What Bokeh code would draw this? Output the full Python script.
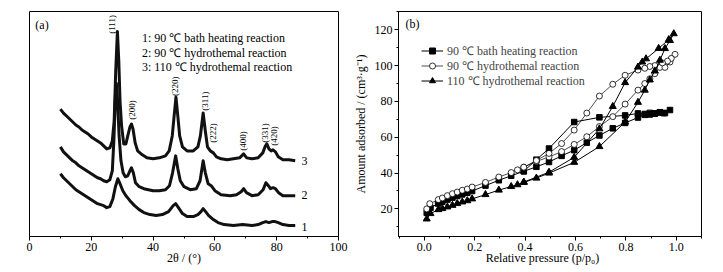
from bokeh.plotting import figure
from bokeh.layouts import row
from bokeh.models import (Legend, LegendItem, SingleIntervalTicker,
                          Range1d, NumeralTickFormatter)
from bokeh.core.properties import value
from bokeh.embed import file_html
from bokeh.resources import INLINE
import math

FONT = "Liberation Serif"

# ---------------- (a) XRD patterns (intensity, a.u.) ----------------
tt_1 = [10, 11, 12, 13, 14, 15, 16, 17, 18, 19, 20, 21, 22, 23, 24, 25, 26, 27, 27.8, 28.6, 29.3,
        30.2, 31.2, 32.5, 34, 35.5, 37, 39, 41, 43, 45, 46.5, 47.3, 48.2, 49.5, 51, 53, 54.5, 55.5,
        56.2, 57, 58, 59.5, 61, 63, 66, 69, 72, 74, 75.5, 76.5, 77.5, 78.5, 79.5, 80.5, 82, 84, 86]
int_1 = [63, 59, 56, 53, 50, 47, 45, 43, 41, 39, 37, 35, 33, 32, 31, 29, 30, 38, 50, 58, 53,
         46, 41, 36, 31, 27, 24, 22, 21, 22, 25, 31, 33, 29, 23, 20, 20, 22, 25,
         28, 25, 21, 17, 14, 12, 11, 12, 11, 12, 14, 15, 14, 15, 15, 14, 12, 11, 11]

tt_2 = [10, 11, 12, 13, 14, 15, 16, 17, 18, 19, 20, 21, 22, 23, 24, 25, 26, 26.8, 27.3, 27.8, 28.1,
        28.5, 29.0, 29.6, 30.3, 31, 31.8, 32.5, 33.0, 33.6, 34.3, 35.5, 37, 40, 42, 44, 45.3, 46.3,
        47.3, 48.0, 48.8, 50, 52, 54, 55.2, 56.2, 56.9, 57.8, 58.8, 60, 62, 65, 67, 68.5, 69.3, 70.2,
        72, 74, 75.6, 76.5, 77.3, 78, 78.8, 79.6, 80.6, 82, 84, 86]
int_2 = [90, 85, 82, 79, 76, 74, 71, 69, 67, 65, 63, 61, 59, 58, 56, 55, 57, 66, 96, 141, 154,
         136, 101, 76, 64, 60, 61, 66, 69, 64, 54, 50, 48, 46, 46, 47, 51, 64,
         81, 68, 56, 50, 47, 48, 56, 76, 64, 53, 51, 46, 42, 41, 42, 45, 48, 44,
         41, 42, 47, 54, 51, 48, 49, 48, 44, 41, 41, 41]

tt_3 = [10, 11, 12, 13, 14, 15, 16, 17, 18, 19, 20, 21, 22, 23, 24, 25, 26, 26.8, 27.4, 27.9, 28.45,
        28.9, 29.3, 29.8, 30.5, 31.2, 31.8, 32.5, 33.0, 33.5, 34.2, 35, 36.5, 38, 40, 42, 44, 45.2,
        46.2, 46.8, 47.4, 48.0, 48.6, 49.5, 51, 53, 54.5, 55.3, 56.2, 56.9, 57.6, 58.5, 59.5, 60.5,
        62, 64, 66, 68, 69.3, 70.3, 72, 74, 75.5, 76.2, 76.8, 77.5, 78.2, 78.8, 79.6, 80.5, 82, 84, 86]
int_3 = [128, 124, 121, 118, 115, 112, 110, 107, 105, 103, 100, 98, 96, 94, 91, 88, 89, 96, 116, 166, 206,
         176, 136, 111, 93, 93, 101, 110, 113, 108, 94, 86, 82, 79, 78, 79, 81, 86,
         101, 121, 140, 121, 101, 90, 86, 86, 90, 101, 124, 106, 90, 86, 84, 80,
         78, 77, 78, 79, 83, 79, 78, 79, 84, 90, 93, 88, 86, 87, 85, 80, 77, 77, 76]

peak_text = ["(111)", "(200)", "(220)", "(311)", "(222)", "(400)", "(331)", "(420)"]
peak_tt = [26.7, 33.2, 47.2, 56.9, 59.4, 69.1, 76.3, 79.2]
peak_int = [213, 127, 151, 136, 104, 96, 104, 101]

curve_no = ["1", "2", "3"]
curve_no_tt = [88.0, 88.0, 88.0]
curve_no_int = [10, 42, 76]

sample_names_a = ["1: 90 \u2103 bath heating reaction",
                  "2: 90 \u2103 hydrothemal reaction",
                  "3: 110 \u2103 hydrothemal reaction"]
sample_tt = [36.4, 36.4, 36.4]
sample_int = [199, 184, 170]

# ---------------- (b) N2 isotherms ----------------
p1 = [0.01, 0.025, 0.055, 0.072, 0.092, 0.112, 0.131, 0.151, 0.171, 0.19, 0.243, 0.296, 0.345, 0.395,
      0.445, 0.495, 0.545, 0.595, 0.645, 0.695, 0.748, 0.797, 0.848, 0.875, 0.895, 0.915, 0.935, 0.95,
      0.975, 0.955, 0.935, 0.915, 0.895, 0.875, 0.848, 0.797, 0.695, 0.595, 0.495, 0.445, 0.395]
v1 = [17.8, 20.6, 23.0, 24.0, 25.2, 26.3, 27.2, 28.1, 29.0, 30.0, 33.0, 36.0, 38.5, 41.0,
      43.5, 46.2, 49.6, 52.8, 57.0, 61.0, 65.0, 68.0, 71.0, 72.5, 72.7, 73.3, 73.8, 73.5,
      75.2, 73.5, 74.0, 73.2, 73.6, 73.0, 73.3, 72.2, 71.1, 68.5, 53.7, 47.5, 41.0]

p2 = [0.01, 0.022, 0.056, 0.072, 0.092, 0.112, 0.131, 0.151, 0.171, 0.19, 0.243, 0.296, 0.345, 0.37,
      0.395, 0.445, 0.495, 0.545, 0.595, 0.645, 0.695, 0.748, 0.797, 0.848, 0.875, 0.895, 0.915, 0.935,
      0.955, 0.975, 0.995, 0.98, 0.965, 0.945, 0.915, 0.895, 0.875, 0.848, 0.797, 0.748, 0.695, 0.645,
      0.595, 0.545, 0.495, 0.445, 0.395]
v2 = [20.0, 22.9, 25.2, 26.1, 27.4, 28.5, 29.4, 30.4, 31.1, 32.2, 34.8, 37.8, 40.3, 41.8,
      43.3, 46.5, 49.0, 52.0, 56.0, 60.3, 66.0, 71.5, 78.5, 86.3, 90.0, 92.6, 95.5, 99.0,
      99.0, 102.0, 106.3, 104.0, 102.5, 101.5, 100.0, 99.5, 98.5, 97.5, 94.6, 89.6, 83.0, 73.5,
      64.0, 56.5, 51.0, 47.0, 43.3]

p3 = [0.01, 0.025, 0.056, 0.072, 0.092, 0.112, 0.131, 0.151, 0.171, 0.19, 0.243, 0.296, 0.345, 0.37,
      0.395, 0.445, 0.495, 0.595, 0.695, 0.797, 0.848, 0.875, 0.895, 0.915, 0.935, 0.955, 0.975, 0.99,
      0.97, 0.93, 0.88, 0.865, 0.848, 0.797, 0.748, 0.695, 0.595, 0.495, 0.395]
v3 = [14.4, 17.4, 19.6, 20.2, 21.1, 22.0, 23.0, 23.9, 24.6, 25.6, 28.0, 30.5, 32.5, 33.5,
      34.8, 37.2, 40.0, 46.0, 54.8, 68.5, 79.5, 86.3, 92.0, 97.0, 103.0, 109.5, 114.0, 117.8,
      114.5, 109.6, 103.8, 102.0, 99.2, 90.5, 77.2, 64.7, 48.8, 40.5, 35.0]

series_names_b = ["90 \u2103 bath heating reaction",
                  "90 \u2103 hydrothemal reaction",
                  "110 \u2103 hydrothemal reaction"]


def style_axis(ax, label):
    ax.axis_label = label
    ax.axis_line_color = "black"
    ax.major_tick_line_color = "black"
    ax.minor_tick_line_color = "black"
    ax.major_tick_in = 0
    ax.major_tick_out = 4
    ax.minor_tick_in = 0
    ax.minor_tick_out = 2
    ax.major_label_text_font = FONT
    ax.major_label_text_font_size = "12px"
    ax.major_label_text_color = "black"
    ax.major_label_standoff = 2
    ax.axis_label_text_font = FONT
    ax.axis_label_text_font_size = "12px"
    ax.axis_label_text_font_style = "normal"
    ax.axis_label_text_color = "black"
    ax.axis_label_standoff = -3


# ---------- panel (a) ----------
pa = figure(width=350, height=270, output_backend="svg", toolbar_location=None,
            x_range=Range1d(0, 100), y_range=Range1d(0, 226),
            min_border_left=29, min_border_right=12, min_border_top=10, min_border_bottom=34)
pa.grid.visible = False
pa.outline_line_color = "black"
pa.outline_line_width = 1
pa.yaxis.visible = False
pa.xaxis.ticker = SingleIntervalTicker(interval=20, num_minor_ticks=2)
style_axis(pa.xaxis[0], "2\u03b8 / (\u00b0)")

for tt, it in [(tt_1, int_1), (tt_2, int_2), (tt_3, int_3)]:
    pa.line(tt, it, line_color="#111111", line_width=3.0, line_join="round")

pa.text(x=peak_tt, y=peak_int, text=peak_text, angle=math.pi / 2,
        text_font=value(FONT), text_font_size="9px", text_align="center",
        text_baseline="middle", text_color="black")
pa.text(x=curve_no_tt, y=curve_no_int, text=curve_no, text_font=value(FONT),
        text_font_size="12px", text_align="left", text_baseline="middle", text_color="black")
pa.text(x=sample_tt, y=sample_int, text=sample_names_a, text_font=value(FONT),
        text_font_size="12px", text_align="left", text_baseline="middle", text_color="black")
pa.text(x=[1.9], y=[212.5], text=["(a)"], text_font=value(FONT), text_font_size="12px",
        text_align="left", text_baseline="middle", text_color="black")

# ---------- panel (b) ----------
pb = figure(width=365, height=270, output_backend="svg", toolbar_location=None,
            x_range=Range1d(-0.102, 1.100), y_range=Range1d(4.6, 130.2),
            min_border_left=43, min_border_right=14, min_border_top=11, min_border_bottom=33)
pb.grid.visible = False
pb.outline_line_color = "black"
pb.outline_line_width = 1
pb.xaxis.ticker = SingleIntervalTicker(interval=0.2, num_minor_ticks=2)
pb.xaxis.formatter = NumeralTickFormatter(format="0.0")
pb.yaxis.ticker = SingleIntervalTicker(interval=20, num_minor_ticks=2)
style_axis(pb.xaxis[0], "Relative pressure (p/p\u2080)" + "\u00a0" * 5)
style_axis(pb.yaxis[0], "Amount adsorbed / (cm\u00b3\u00b7g\u207b\u00b9)")
pb.yaxis.axis_label_standoff = 4

l1 = pb.line(p1, v1, line_color="black", line_width=1.0)
s1 = pb.scatter(p1, v1, marker="square", size=5.5, fill_color="black", line_color="black")
l2 = pb.line(p2, v2, line_color="black", line_width=0.7)
s2 = pb.scatter(p2, v2, marker="circle", size=6, fill_color="white", line_color="black", line_width=0.8)
l3 = pb.line(p3, v3, line_color="black", line_width=1.0)
s3 = pb.scatter(p3, v3, marker="triangle", size=7, fill_color="black", line_color="black")

legend_renderers = [[l1, s1], [l2, s2], [l3, s3]]
legend_offsets = [177, 162, 147]
for name, rends, off in zip(series_names_b, legend_renderers, legend_offsets):
    lg = Legend(items=[LegendItem(label=name, renderers=rends)], location=(23, off),
                label_text_font=FONT, label_text_font_size="12px", label_height=15,
                glyph_height=15, glyph_width=22, label_standoff=4, spacing=0, padding=0,
                margin=0, border_line_alpha=0, background_fill_alpha=0)
    pb.add_layout(lg)

pb.text(x=[-0.074], y=[123.3], text=["(b)"], text_font=value(FONT), text_font_size="12px",
        text_align="left", text_baseline="middle", text_color="black")

layout = row(pa, pb)
open("out.html", "w").write(file_html(layout, INLINE))
